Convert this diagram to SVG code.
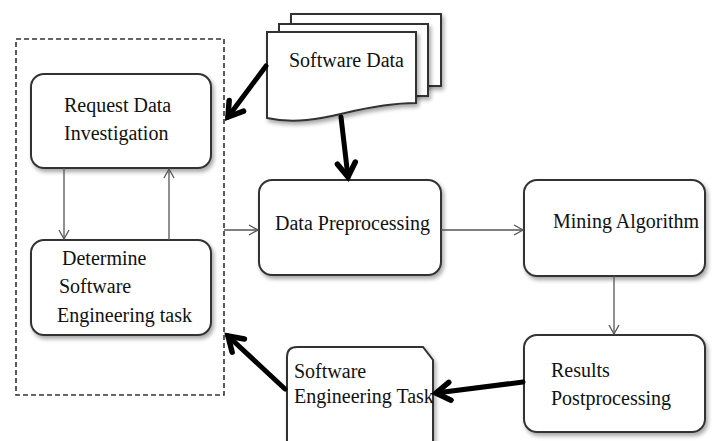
<svg xmlns="http://www.w3.org/2000/svg" width="712" height="441" viewBox="0 0 712 441">
  <defs>
    <style>
      .box { fill: #fff; stroke: #333; stroke-width: 2; filter: url(#shadow); }
      .page { fill: #fff; stroke: #333; stroke-width: 2; }
      .lbl { font-family: "Liberation Serif", "Times New Roman", serif; font-size: 20px; fill: #111; }
      .thin { fill: none; stroke: #555; stroke-width: 1.3; }
      .thick { fill: none; stroke: #000; stroke-width: 5; stroke-linecap: round; }
      .frame { fill: none; stroke: #333; stroke-width: 1.6; stroke-dasharray: 5 3; }
    </style>
    <filter id="shadow" x="-10%" y="-10%" width="125%" height="130%">
      <feGaussianBlur in="SourceAlpha" stdDeviation="2"/>
      <feOffset dx="2" dy="3" result="b"/>
      <feComponentTransfer><feFuncA type="linear" slope="0.35"/></feComponentTransfer>
      <feMerge><feMergeNode/><feMergeNode in="SourceGraphic"/></feMerge>
    </filter>
    <marker id="open" markerWidth="12" markerHeight="12" refX="10" refY="6" orient="auto" markerUnits="userSpaceOnUse">
      <path d="M1,1 L10,6 L1,11" fill="none" stroke="#555" stroke-width="1.3"/>
    </marker>
    <marker id="bold" markerWidth="24" markerHeight="24" refX="19" refY="12" orient="auto" markerUnits="userSpaceOnUse">
      <path d="M5,3 L19,12 L5,21" fill="none" stroke="#000" stroke-width="5.5" stroke-linejoin="miter" stroke-linecap="round"/>
    </marker>
  </defs>

  <rect width="712" height="441" fill="#fff"/>

  <!-- dashed grouping frame -->
  <rect id="frame" class="frame" x="16" y="39" width="208" height="356"/>

  <g id="request">
    <rect class="box" x="31" y="74" width="180" height="94" rx="13"/>
    <text class="lbl" x="64" y="112">Request Data</text>
    <text class="lbl" x="64" y="140">Investigation</text>
  </g>

  <g id="determine">
    <rect class="box" x="31" y="240" width="180" height="95" rx="13"/>
    <text class="lbl" x="62" y="265">Determine</text>
    <text class="lbl" x="59" y="293">Software</text>
    <text class="lbl" x="57" y="322">Engineering task</text>
  </g>

  <g id="software-data">
    <path class="page" d="M291,14 H441 V86 H291 Z" filter="url(#shadow)"/>
    <path class="page" d="M279,24 H428 V96 H279 Z" filter="url(#shadow)"/>
    <path class="page" d="M267,32 H416 V103 C392,103 370,107 345,113 C320,119 294,124 267,118 Z" filter="url(#shadow)"/>
    <text class="lbl" x="289" y="67">Software Data</text>
  </g>

  <g id="preprocessing">
    <rect class="box" x="259" y="180" width="182" height="95" rx="13"/>
    <text class="lbl" x="275" y="230">Data Preprocessing</text>
  </g>

  <g id="mining">
    <rect class="box" x="524" y="180" width="181" height="96" rx="13"/>
    <text class="lbl" x="553" y="228">Mining Algorithm</text>
  </g>

  <g id="postprocessing">
    <rect class="box" x="524" y="335" width="181" height="97" rx="13"/>
    <text class="lbl" x="551" y="377">Results</text>
    <text class="lbl" x="551" y="405">Postprocessing</text>
  </g>

  <g id="se-task">
    <path class="page" d="M287,447 V357 Q287,347 297,347 H423 L433,360 V447" filter="url(#shadow)"/>
    <text class="lbl" x="294" y="378">Software</text>
    <text class="lbl" x="294" y="403">Engineering Task</text>
  </g>

  <g id="connectors">
    <line class="thin" x1="64" y1="168" x2="64" y2="239" marker-end="url(#open)"/>
    <line class="thin" x1="169" y1="240" x2="169" y2="169" marker-end="url(#open)"/>
    <line class="thin" x1="224" y1="230" x2="258" y2="230" marker-end="url(#open)"/>
    <line class="thin" x1="441" y1="230" x2="523" y2="230" marker-end="url(#open)"/>
    <line class="thin" x1="614" y1="276" x2="614" y2="334" marker-end="url(#open)"/>
    <line class="thick" x1="266" y1="66" x2="228" y2="117" marker-end="url(#bold)"/>
    <line class="thick" x1="341" y1="117" x2="348" y2="177" marker-end="url(#bold)"/>
    <line class="thick" x1="523" y1="382" x2="436" y2="393" marker-end="url(#bold)"/>
    <line class="thick" x1="285" y1="389" x2="228" y2="336" marker-end="url(#bold)"/>
  </g>
</svg>
